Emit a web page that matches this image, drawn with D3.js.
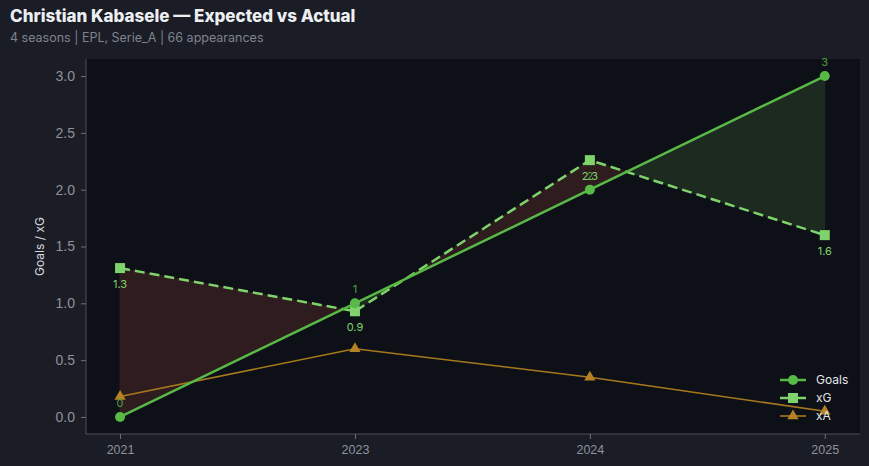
<!DOCTYPE html>
<html>
<head>
<meta charset="utf-8">
<script src="https://cdn.jsdelivr.net/npm/d3@7"></script>
<style>
  body { margin: 0; background: #1a1d25; }
  svg { display: block; font-family: Inter, "Noto Sans", sans-serif; }
</style>
</head>
<body>
<svg id="chart" width="869" height="466"></svg>
<script>
const seasons = ["2021", "2023", "2024", "2025"];
const goals = [0, 1, 2, 3];
const xG = [1.31, 0.93, 2.26, 1.6];
const xA = [0.18, 0.6, 0.35, 0.05];
const yTicks = [0, 0.5, 1, 1.5, 2, 2.5, 3];

const svg = d3.select("#chart");
const W = 869, H = 466;
const m = {left: 86, right: 9, top: 59, bottom: 32};

svg.append("rect").attr("width", W).attr("height", H).attr("fill", "#1a1d25");
svg.append("rect").attr("x", m.left).attr("y", m.top)
  .attr("width", W - m.left - m.right).attr("height", H - m.top - m.bottom)
  .attr("fill", "#0d1017");

const x = d3.scaleLinear().domain([-0.145, 3.15]).range([m.left, W - m.right]);
const y = d3.scaleLinear().domain([-0.15, 3.15]).range([H - m.bottom, m.top]);

// fill between goals and xG, split where they cross
const idx = seasons.map((s, i) => i);
function segs() {
  const out = [];
  for (let i = 0; i < idx.length - 1; i++) {
    const d0 = goals[i] - xG[i], d1 = goals[i + 1] - xG[i + 1];
    if (d0 * d1 < 0) {
      const t = d0 / (d0 - d1);
      const xc = i + t, yc = goals[i] + t * (goals[i + 1] - goals[i]);
      out.push({pos: d0 > 0, pts: [[i, goals[i], xG[i]], [xc, yc, yc]]});
      out.push({pos: d1 > 0, pts: [[xc, yc, yc], [i + 1, goals[i + 1], xG[i + 1]]]});
    } else {
      out.push({pos: (d0 + d1) > 0, pts: [[i, goals[i], xG[i]], [i + 1, goals[i + 1], xG[i + 1]]]});
    }
  }
  return out;
}
const area = d3.area().x(d => x(d[0])).y0(d => y(d[1])).y1(d => y(d[2]));
segs().forEach(s => {
  svg.append("path").attr("d", area(s.pts))
    .attr("fill", s.pos ? "#1c2a1f" : "#2e1c1f")
    .attr("stroke", s.pos ? "#1f3322" : "#3a1f22").attr("stroke-width", 0.8);
});

// axes
const yAxis = d3.axisLeft(y).tickValues(yTicks).tickFormat(d3.format(".1f")).tickSize(5).tickPadding(6);
const gy = svg.append("g").attr("transform", `translate(${m.left},0)`).call(yAxis);
const xAxis = d3.axisBottom(x).tickValues(idx).tickFormat(i => seasons[i]).tickSize(5).tickPadding(6);
const gx = svg.append("g").attr("transform", `translate(0,${H - m.bottom})`).call(xAxis);
[gx, gy].forEach(g => {
  g.select(".domain").attr("stroke", "#4a4f5a");
  g.selectAll(".tick line").attr("stroke", "#6a6f7a");
  g.selectAll(".tick text").attr("fill", "#8e929c").attr("font-size", 14);
});
gx.selectAll(".tick text").attr("font-size", 12.5);
gx.select(".domain").attr("d", `M${m.left},0H${W - m.right}`);
gy.select(".domain").attr("d", `M0,${m.top}V${H - m.bottom}`);

svg.append("text").attr("transform", `translate(44,${(m.top + H - m.bottom) / 2}) rotate(-90)`)
  .attr("text-anchor", "middle").attr("fill", "#d8dae0").attr("font-size", 12).text("Goals / xG");

const line = d3.line().x((d, i) => x(i)).y(d => y(d));

// xA
svg.append("path").attr("d", line(xA)).attr("fill", "none").attr("stroke", "#a8781e").attr("stroke-width", 1.6);
const tri = d3.symbol().type(d3.symbolTriangle).size(55);
xA.forEach((v, i) => svg.append("path").attr("d", tri()).attr("transform", `translate(${x(i)},${y(v)})`).attr("fill", "#b58324"));

// xG
svg.append("path").attr("d", line(xG)).attr("fill", "none").attr("stroke", "#7fd36c")
  .attr("stroke-width", 2.5).attr("stroke-dasharray", "10,5");
xG.forEach((v, i) => svg.append("rect").attr("x", x(i) - 5).attr("y", y(v) - 5)
  .attr("width", 10).attr("height", 10).attr("fill", "#7fd36c"));

// goals
svg.append("path").attr("d", line(goals)).attr("fill", "none").attr("stroke", "#58b947").attr("stroke-width", 2.5);
goals.forEach((v, i) => svg.append("circle").attr("cx", x(i)).attr("cy", y(v)).attr("r", 5).attr("fill", "#58b947"));

// value labels
goals.forEach((v, i) => svg.append("text").attr("x", x(i)).attr("y", y(v) - 10)
  .attr("text-anchor", "middle").attr("font-size", 11).attr("fill", "#4fa043").text(d3.format("~g")(v)));
xG.forEach((v, i) => svg.append("text").attr("x", x(i)).attr("y", y(v) + 20)
  .attr("text-anchor", "middle").attr("font-size", 11).attr("fill", "#7fd36c").text(d3.format(".1f")(v)));

// legend
const legend = [
  {name: "Goals", color: "#58b947", mark: "circle"},
  {name: "xG", color: "#7fd36c", mark: "square"},
  {name: "xA", color: "#a8781e", mark: "tri"}
];
legend.forEach((l, i) => {
  const ly = 380 + i * 18, lx = 780;
  svg.append("line").attr("x1", lx).attr("x2", lx + 26).attr("y1", ly).attr("y2", ly)
    .attr("stroke", l.color).attr("stroke-width", l.mark === "tri" ? 1.6 : 2.5);
  if (l.mark === "circle") svg.append("circle").attr("cx", lx + 13).attr("cy", ly).attr("r", 5).attr("fill", l.color);
  if (l.mark === "square") svg.append("rect").attr("x", lx + 8).attr("y", ly - 5).attr("width", 10).attr("height", 10).attr("fill", l.color);
  if (l.mark === "tri") svg.append("path").attr("d", tri()).attr("transform", `translate(${lx + 13},${ly})`).attr("fill", "#b58324");
  svg.append("text").attr("x", lx + 36).attr("y", ly + 4).attr("font-size", 12).attr("fill", "#e4e6ea").text(l.name);
});

// title
svg.append("text").attr("x", 10).attr("y", 22).attr("font-size", 17).attr("font-weight", 800)
  .attr("fill", "#eceef2").text("Christian Kabasele — Expected vs Actual");
svg.append("text").attr("x", 10).attr("y", 42).attr("font-size", 12.5)
  .attr("fill", "#7f838d").text("4 seasons | EPL, Serie_A | 66 appearances");
</script>
</body>
</html>
